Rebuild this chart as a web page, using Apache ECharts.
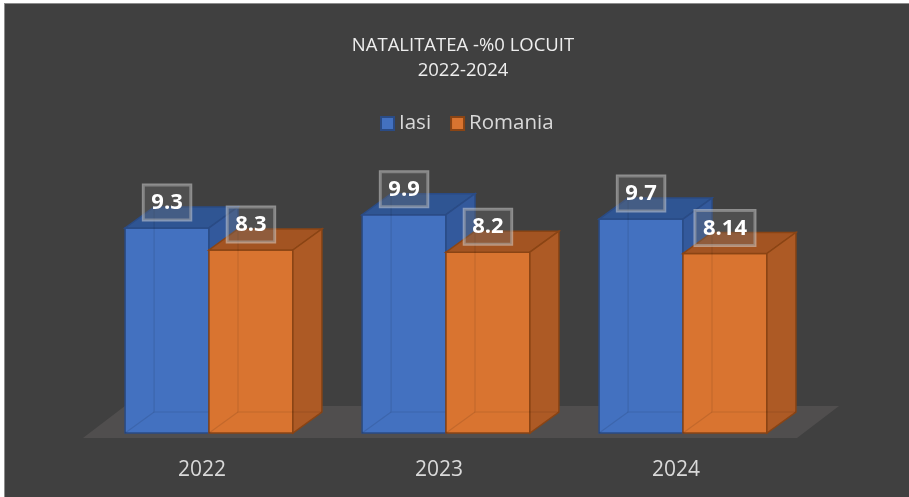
<!DOCTYPE html>
<html>
<head>
<meta charset="utf-8">
<script src="https://cdn.jsdelivr.net/npm/echarts@6/dist/echarts.min.js"></script>
<style>
html,body{margin:0;padding:0;background:#ffffff;overflow:hidden;width:909px;height:497px;}
#wrap{position:absolute;left:4px;top:3px;border-left:1px solid #8c8c8c;border-top:1px solid #8c8c8c;background:#404040;}
#chart{width:916px;height:494px;}
</style>
</head>
<body>
<div id="wrap"><div id="chart"></div></div>
<script>
const categories = ['2022', '2023', '2024'];
const iasiValues = [9.3, 9.9, 9.7];
const romaniaValues = [8.3, 8.2, 8.14];
const seriesNames = ['Iasi', 'Romania'];
const titleText = 'NATALITATEA -%0 LOCUIT\n2022-2024';

const DX = 29, DY = 21;
const styles = {
  Iasi: {front: '#4371c0', top: '#2f5593', side: '#33599c', edge: '#2a4b85', side0: 'left'},
  Romania: {front: '#d97430', top: '#a35422', side: '#ad5a25', edge: '#8a4414', side0: 'right'}
};

function makeRender(name) {
  const s = styles[name];
  return function (params, api) {
    const cat = api.value(0), v = api.value(1);
    const base = api.coord([cat, 0]);
    const top = api.coord([cat, v]);
    const band = api.size([1, 0])[0];
    const w = band * 0.354;
    const x0 = s.side0 === 'left' ? base[0] - w : base[0];
    const yt = top[1], yb = base[1];
    const children = [
      {type: 'rect', shape: {x: x0, y: yt, width: w, height: yb - yt},
        style: {fill: s.front, stroke: s.edge, lineWidth: 1.5}},
      {type: 'polygon', shape: {points: [[x0, yt], [x0 + w, yt], [x0 + w + DX, yt - DY], [x0 + DX, yt - DY]]},
        style: {fill: s.top, stroke: s.edge, lineWidth: 1.5}},
      {type: 'polygon', shape: {points: [[x0 + w, yt], [x0 + w + DX, yt - DY], [x0 + w + DX, yb - DY], [x0 + w, yb]]},
        style: {fill: s.side, stroke: s.edge, lineWidth: 1.5}},
      {type: 'polyline', shape: {points: [[x0 + DX, yt - DY], [x0 + DX, yb - DY], [x0 + w + DX, yb - DY]]},
        style: {fill: null, stroke: 'rgba(0,0,0,0.1)', lineWidth: 1.2}},
      {type: 'line', shape: {x1: x0, y1: yb, x2: x0 + DX, y2: yb - DY},
        style: {stroke: 'rgba(0,0,0,0.1)', lineWidth: 1.2}},
      {type: 'text', x: x0 + w / 2, y: yt - 8,
        style: {text: String(v), fill: '#ffffff', font: 'bold 22px "Open Sans", sans-serif',
          align: 'center', verticalAlign: 'bottom',
          backgroundColor: 'rgba(110,110,110,0.35)', borderColor: 'rgba(220,220,220,0.5)', borderWidth: 1.5,
          padding: [7, 8, 6, 8]}}
    ];
    return {type: 'group', children: children};
  };
}

function floorRender(params, api) {
  const a = api.coord([0, 0]);
  const b = api.coord([categories.length - 1, 0]);
  const band = api.size([1, 0])[0];
  const fl = a[0] - band * 0.532, fr = b[0] + band * 0.481;
  const yf = a[1] + 5, yk = a[1] - 27;
  return {type: 'polygon', shape: {points: [[fl, yf], [fr, yf], [fr + 42, yk], [fl + 42, yk]]},
    style: {fill: '#504e4e'}};
}

const chart = echarts.init(document.getElementById('chart'), null, {renderer: 'canvas'});
chart.setOption({
  backgroundColor: '#404040',
  animation: false,
  title: {text: titleText, left: 'center', top: 29, padding: 0,
    textStyle: {color: '#eeeeee', fontSize: 18.5, lineHeight: 25, fontWeight: 'normal', fontFamily: '"Open Sans", sans-serif'}},
  legend: {data: seriesNames, left: 375, top: 109, padding: 0, itemGap: 19, itemWidth: 13, itemHeight: 13,
    icon: 'rect', textStyle: {color: '#d9d9d9', fontSize: 20.5, fontFamily: '"Open Sans", sans-serif'}},
  grid: {left: 85.5, right: 119.5, top: 208.5, bottom: 65, containLabel: false},
  xAxis: {type: 'category', data: categories, axisLine: {show: false}, axisTick: {show: false},
    axisLabel: {color: '#d9d9d9', fontSize: 21, margin: 27, padding: [0, 14, 0, 0], fontFamily: '"Open Sans", sans-serif'},
    splitLine: {show: false}},
  yAxis: {type: 'value', min: 0, max: 10, show: false},
  series: [
    {type: 'custom', name: 'floor', renderItem: floorRender, data: [[0, 0]], silent: true, z: 1},
    {type: 'custom', name: 'Iasi', renderItem: makeRender('Iasi'),
      data: iasiValues.map((v, i) => [i, v]), encode: {x: 0, y: 1}, z: 2,
      itemStyle: {color: styles.Iasi.front, borderColor: styles.Iasi.edge, borderWidth: 1}},
    {type: 'custom', name: 'Romania', renderItem: makeRender('Romania'),
      data: romaniaValues.map((v, i) => [i, v]), encode: {x: 0, y: 1}, z: 3,
      itemStyle: {color: styles.Romania.front, borderColor: styles.Romania.edge, borderWidth: 1}}
  ]
});
</script>
</body>
</html>
